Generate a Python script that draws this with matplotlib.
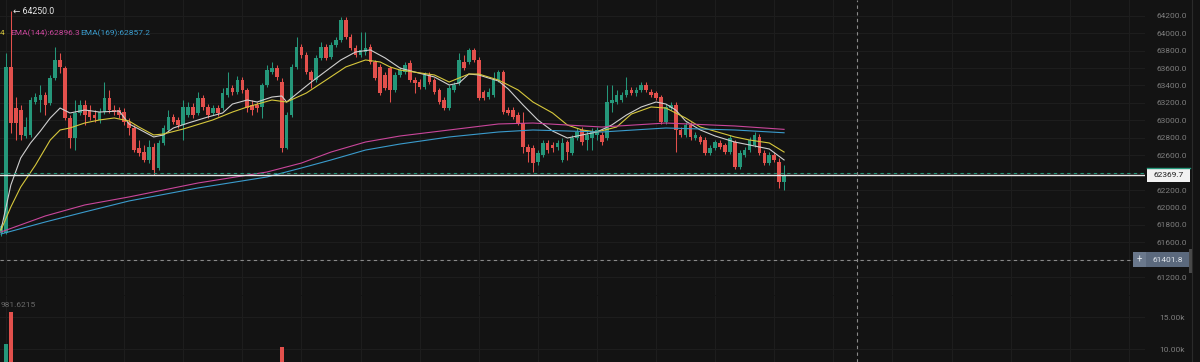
import numpy as np
import matplotlib.pyplot as plt
import matplotlib.transforms as mtransforms
from matplotlib.patches import Rectangle
from matplotlib.lines import Line2D

plt.rcParams['font.family'] = ['Roboto', 'DejaVu Sans']

# OHLC per candle (160 candles)
opens = [61707, 61707, 63612, 63141, 63118, 62820, 62832, 63210, 63233, 63290,
         63199, 63485, 63692, 63600, 63027, 62797, 63084, 63176, 63118, 63061,
         63004, 63095, 63256, 63118, 63118, 63095, 62981, 62912, 62682, 62636,
         62545, 62694, 62453, 62740, 62889, 63038, 63004, 62946, 63061, 63153,
         63084, 63256, 63153, 63084, 63141, 63141, 63290, 63371, 63325, 63462,
         63348, 63176, 63176, 63153, 63405, 63554, 63600, 63439, 62682, 63061,
         63612, 63841, 63749, 63554, 63462, 63715, 63841, 63726, 63864, 63921,
         64151, 63956, 63830, 63749, 63784, 63841, 63669, 63612, 63520, 63600,
         63348, 63520, 63554, 63657, 63462, 63439, 63382, 63520, 63462, 63348,
         63233, 63141, 63348, 63428, 63669, 63669, 63807, 63692, 63325, 63267,
         63290, 63462, 63554, 63118, 63118, 63061, 62969, 62694, 62682, 62522,
         62602, 62740, 62717, 62694, 62545, 62751, 62625, 62797, 62889, 62774,
         62797, 62832, 62832, 62797, 63199, 63210, 63233, 63290, 63348, 63313,
         63348, 63405, 63325, 63313, 63267, 62981, 63141, 63176, 62889, 62832,
         62946, 62797, 62809, 62774, 62625, 62682, 62740, 62717, 62636, 62751,
         62464, 62602, 62659, 62717, 62809, 62625, 62510, 62602, 62522, 62292]
highs = [61811, 63772, 64250, 63267, 63176, 63038, 63267, 63313, 63405, 63325,
         63520, 63841, 63772, 63623, 63061, 63233, 63233, 63233, 63176, 63118,
         63141, 63439, 63348, 63176, 63153, 63141, 63027, 62946, 62774, 62717,
         62774, 62740, 62774, 62946, 63118, 63072, 63038, 63233, 63210, 63199,
         63325, 63290, 63187, 63176, 63176, 63371, 63554, 63405, 63508, 63497,
         63371, 63233, 63210, 63428, 63634, 63669, 63634, 63485, 63095, 63646,
         63956, 63875, 63784, 63577, 63749, 63898, 63875, 63898, 63956, 64185,
         64185, 63990, 63864, 64013, 64013, 63875, 63692, 63646, 63554, 63623,
         63554, 63612, 63669, 63692, 63497, 63474, 63554, 63554, 63485, 63371,
         63267, 63405, 63439, 63772, 63749, 63830, 63830, 63726, 63348, 63371,
         63554, 63577, 63577, 63153, 63153, 63095, 63095, 62728, 62717, 62659,
         62774, 62774, 62751, 62774, 62797, 62774, 62832, 62912, 62923, 62889,
         62912, 62923, 62866, 63405, 63405, 63348, 63325, 63497, 63382, 63382,
         63439, 63439, 63359, 63336, 63290, 63187, 63210, 63210, 62923, 62981,
         62981, 62866, 62832, 62809, 62717, 62774, 62774, 62740, 62832, 62774,
         62659, 62694, 62809, 62866, 62843, 62659, 62636, 62636, 62568, 62487]
lows = [61673, 61696, 62855, 62774, 62774, 62797, 62809, 63187, 63095, 63061,
        63176, 63462, 63543, 63004, 62682, 62659, 63061, 62946, 63004, 62981,
        62969, 63072, 63084, 63061, 63027, 62946, 62832, 62636, 62591, 62522,
        62510, 62373, 62430, 62717, 62866, 62958, 62912, 62774, 63038, 63027,
        63061, 63118, 63027, 63061, 63050, 63118, 63267, 63290, 63302, 63313,
        63095, 63061, 63095, 63027, 63382, 63531, 63462, 62640, 62671, 63038,
        63589, 63715, 63531, 63371, 63439, 63692, 63692, 63703, 63841, 63898,
        63935, 63807, 63726, 63726, 63749, 63646, 63462, 63290, 63348, 63210,
        63325, 63497, 63531, 63439, 63313, 63359, 63359, 63417, 63302, 63187,
        63118, 63118, 63325, 63405, 63577, 63646, 63669, 63233, 63233, 63245,
        63267, 63439, 63072, 63061, 63015, 62946, 62625, 62522, 62407, 62487,
        62579, 62625, 62636, 62659, 62522, 62545, 62602, 62774, 62717, 62659,
        62659, 62774, 62717, 62774, 63095, 63187, 63210, 63267, 63290, 63279,
        63325, 63325, 63267, 63233, 62958, 62958, 63118, 62636, 62809, 62809,
        62774, 62774, 62728, 62602, 62602, 62659, 62671, 62613, 62613, 62442,
        62442, 62579, 62636, 62694, 62602, 62487, 62487, 62522, 62224, 62201]
closes = [61788, 63612, 62969, 62969, 62832, 62923, 63233, 63267, 63290, 63176,
          63485, 63692, 63612, 63027, 62797, 63084, 63176, 63061, 63038, 63027,
          63095, 63256, 63118, 63095, 63061, 62981, 62912, 62659, 62625, 62545,
          62694, 62430, 62740, 62912, 63038, 62981, 62946, 63153, 63153, 63061,
          63256, 63153, 63061, 63141, 63084, 63313, 63371, 63325, 63462, 63348,
          63141, 63118, 63141, 63405, 63577, 63600, 63497, 62680, 63061, 63612,
          63841, 63749, 63554, 63462, 63715, 63841, 63715, 63864, 63921, 64151,
          63956, 63830, 63749, 63807, 63830, 63669, 63485, 63313, 63371, 63348,
          63520, 63577, 63634, 63462, 63428, 63382, 63520, 63439, 63325, 63210,
          63141, 63371, 63405, 63692, 63600, 63807, 63692, 63256, 63256, 63325,
          63462, 63554, 63095, 63084, 63038, 62969, 62694, 62636, 62510, 62625,
          62740, 62659, 62682, 62740, 62740, 62636, 62797, 62866, 62751, 62832,
          62866, 62889, 62751, 63210, 63233, 63290, 63290, 63348, 63313, 63348,
          63405, 63348, 63290, 63256, 62981, 63153, 63176, 62889, 62832, 62946,
          62809, 62832, 62751, 62625, 62682, 62751, 62694, 62636, 62797, 62464,
          62625, 62659, 62774, 62832, 62625, 62510, 62602, 62545, 62292, 62369.7]

# EMA lines (candle index, price)
ema_fast_idx = [0, 2, 4, 6, 8, 10, 12, 14, 17, 20, 24, 26, 28, 31, 33, 35, 38, 42, 45, 47,
                50, 52, 55, 57, 58, 60, 63, 66, 69, 72, 75, 78, 81, 84, 88, 91, 93, 95, 97,
                99, 101, 103, 106, 109, 112, 115, 118, 121, 124, 127, 130, 133, 135, 137,
                139, 142, 145, 149, 152, 156, 159]
ema_fast = [61742, 62258, 62568, 62740, 62877, 63027, 63141, 63084, 63118, 63095, 63107,
            62958, 62900, 62809, 62832, 62912, 62969, 63038, 63084, 63187, 63233, 63210,
            63267, 63279, 63210, 63302, 63439, 63566, 63692, 63784, 63807, 63715, 63600,
            63554, 63497, 63405, 63428, 63531, 63520, 63485, 63451, 63359, 63176, 63004,
            62877, 62797, 62832, 62866, 62946, 63061, 63153, 63210, 63187, 63118, 62992,
            62889, 62820, 62751, 62717, 62671, 62545]
ema_slow_idx = [0, 2, 4, 7, 10, 12, 14, 17, 20, 23, 26, 28, 31, 33, 37, 43, 47, 50, 55, 58,
                62, 66, 70, 74, 77, 79, 81, 88, 91, 95, 97, 101, 105, 108, 112, 115, 118,
                121, 125, 128, 132, 135, 139, 142, 149, 152, 156, 159]
ema_slow = [61742, 62006, 62235, 62487, 62774, 62889, 62912, 62969, 63004, 63027, 62992,
            62923, 62832, 62843, 62900, 63004, 63095, 63153, 63233, 63210, 63313, 63462,
            63612, 63692, 63669, 63612, 63577, 63520, 63439, 63531, 63531, 63462, 63348,
            63210, 63084, 62946, 62889, 62866, 62923, 63072, 63153, 63141, 63027, 62923,
            62809, 62774, 62740, 62636]
ema144_idx = [0, 9, 17, 26, 40, 54, 61, 67, 74, 81, 91, 101, 108, 115, 122, 135, 149, 159]
ema144 = [61719, 61903, 62029, 62121, 62281, 62407, 62510, 62636, 62751, 62820, 62889,
          62958, 62969, 62946, 62923, 62969, 62935, 62896.3]
ema169_idx = [0, 9, 17, 26, 40, 54, 61, 67, 74, 81, 91, 101, 108, 122, 135, 149, 159]
ema169 = [61696, 61834, 61949, 62075, 62224, 62350, 62453, 62545, 62659, 62728, 62809,
          62866, 62889, 62866, 62912, 62889, 62857.2]

# volume: only bars tall enough to show in the visible part of the pane
vol_idx = [1, 2, 57]
vol = [10780, 15800, 10300]

last_price = 62369.7
cross_price = 61401.8
price_ticks = np.arange(61200, 64201, 200)

bg = '#131313'
grid_c = '#1d1d1d'
up_c = '#25977a'
dn_c = '#e2504c'
txt_c = '#7d7d7d'

W, H = 1200, 362
AXW = 1145
PPX = 4.925  # pixels per candle
fig = plt.figure(figsize=(12, 3.62), dpi=100)
fig.patch.set_facecolor(bg)
ax = fig.add_axes([0, 1 - 295 / H, AXW / W, 295 / H])
vax = fig.add_axes([0, 0, AXW / W, 66 / H])

idx = np.arange(len(opens))
o = np.array(opens); h = np.array(highs); l = np.array(lows); c = np.array(closes)
up = c >= o
cols = np.where(up, up_c, dn_c)

for a in (ax, vax):
    a.set_facecolor(bg)
    for s in a.spines.values():
        s.set_visible(False)
    a.set_xlim(-1 / PPX, (AXW - 1) / PPX)
    a.set_xticks(np.arange(1, 232, 12))
    a.grid(True, color=grid_c, lw=0.8)
    a.set_axisbelow(True)
    a.tick_params(length=0, labelbottom=False, labelleft=False, labelright=True,
                  colors=txt_c, labelsize=6)

ax.set_ylim(64380 - 11.47 * 295, 64380)
ax.set_yticks(price_ticks)
# 62400 and 61400 sit under the price boxes, so they carry no label
ax.set_yticklabels(['' if p in (62400, 61400) else '{:.1f}'.format(p) for p in price_ticks])
ax.tick_params(axis='y', pad=8)

# candles
ax.vlines(idx, l, h, colors=cols, lw=0.75, zorder=2)
body_lo = np.minimum(o, c)
body_h = np.maximum(np.abs(c - o), 8)
ax.bar(idx, body_h, bottom=body_lo, width=0.74, color=cols, zorder=2)

# EMA lines
ax.plot(ema_fast_idx, ema_fast, color='#cfcfcf', lw=0.8, zorder=3)
ax.plot(ema_slow_idx, ema_slow, color='#d6c73c', lw=0.8, zorder=3)
ax.plot(ema144_idx, ema144, color='#c9469b', lw=0.8, zorder=3)
ax.plot(ema169_idx, ema169, color='#3a9bcc', lw=0.8, zorder=3)

# last price lines and crosshair
ax.axhline(last_price + 22, color=up_c, lw=0.8, ls=(0, (3, 3)), zorder=4)
ax.axhline(last_price, color='#e6e6e6', lw=1.0, zorder=4)
ax.axhline(cross_price, xmax=1133 / AXW, color='#8a8a8a', lw=0.8, ls=(0, (3, 3)), zorder=4)
cross_x = (857 - 1) / PPX
ax.axvline(cross_x, color='#8a8a8a', lw=0.8, ls=(0, (3, 3)), zorder=4)
vax.axvline(cross_x, color='#8a8a8a', lw=0.8, ls=(0, (3, 3)), zorder=4)

# text overlays
ax.text(2.4, highs[2], '\u2190 64250.0', color='#e8e8e8', fontsize=6.3, va='center')
ax.text(0, 1 - 33 / 295, '4', transform=ax.transAxes, color='#d6c73c', fontsize=6, va='center')
ax.text(10 / AXW, 1 - 33 / 295, 'EMA(144):{:.1f}'.format(ema144[-1]), transform=ax.transAxes,
        color='#c9469b', fontsize=6, va='center')
ax.text(80 / AXW, 1 - 33 / 295, 'EMA(169):{:.1f}'.format(ema169[-1]), transform=ax.transAxes,
        color='#3a9bcc', fontsize=6, va='center')

# price labels on the axis
blend = mtransforms.blended_transform_factory(ax.transAxes, ax.transData)
ax.add_patch(Rectangle((1147 / AXW, last_price - 80), 43 / AXW, 160, transform=blend,
                       facecolor='#f2f2f2', edgecolor='none', clip_on=False, zorder=6))
ax.add_line(Line2D([1147 / AXW, 1190 / AXW], [last_price + 80, last_price + 80],
                   transform=blend, color=up_c, lw=1.0, clip_on=False, zorder=7))
ax.text(1168.5 / AXW, last_price, '{:.1f}'.format(last_price), transform=blend, ha='center',
        va='center', color='#1e1e1e', fontsize=6, zorder=8, clip_on=False)
ax.add_patch(Rectangle((1133 / AXW, cross_price - 85), 13 / AXW, 170, transform=blend,
                       facecolor='#6a788c', edgecolor='none', clip_on=False, zorder=6))
ax.add_patch(Rectangle((1146 / AXW, cross_price - 85), 44 / AXW, 170, transform=blend,
                       facecolor='#5b697d', edgecolor='none', clip_on=False, zorder=6))
ax.text(1139.5 / AXW, cross_price, '+', transform=blend, ha='center', va='center',
        color='#dfe4ea', fontsize=7, zorder=8, clip_on=False)
ax.text(1168 / AXW, cross_price, '{:.1f}'.format(cross_price), transform=blend, ha='center',
        va='center', color='#dfe4ea', fontsize=6, zorder=8, clip_on=False)
ax.text(1153 / AXW, 64400, '64400.0', transform=blend, va='center', color=txt_c,
        fontsize=6, clip_on=False)

# volume pane
vax.set_ylim(10000 - 13 / 6.4 * 1000, 10000 + 53 / 6.4 * 1000)
vax.set_yticks([10000, 15000])
vax.set_yticklabels(['10.00k', '15.00k'])
vax.tick_params(axis='y', pad=10)
vol_cols = [up_c if closes[i] >= opens[i] else dn_c for i in vol_idx]
vax.bar(vol_idx, vol, width=0.74, color=vol_cols)
vax.text(1 / AXW, (362 - 305) / 66, '981.6215', transform=vax.transAxes, color='#6a6a6a',
         fontsize=6, va='center')

# right edge separator
fig.add_artist(Line2D([1192 / W, 1192 / W], [0, 1], color='#2a2a2a', lw=0.8))
fig.add_artist(Rectangle((1189 / W, 1 - 273 / H), 3 / W, 24 / H, facecolor='#4a4a4a',
                         edgecolor='none'))

fig.savefig('out.png', dpi=100, facecolor=bg)
